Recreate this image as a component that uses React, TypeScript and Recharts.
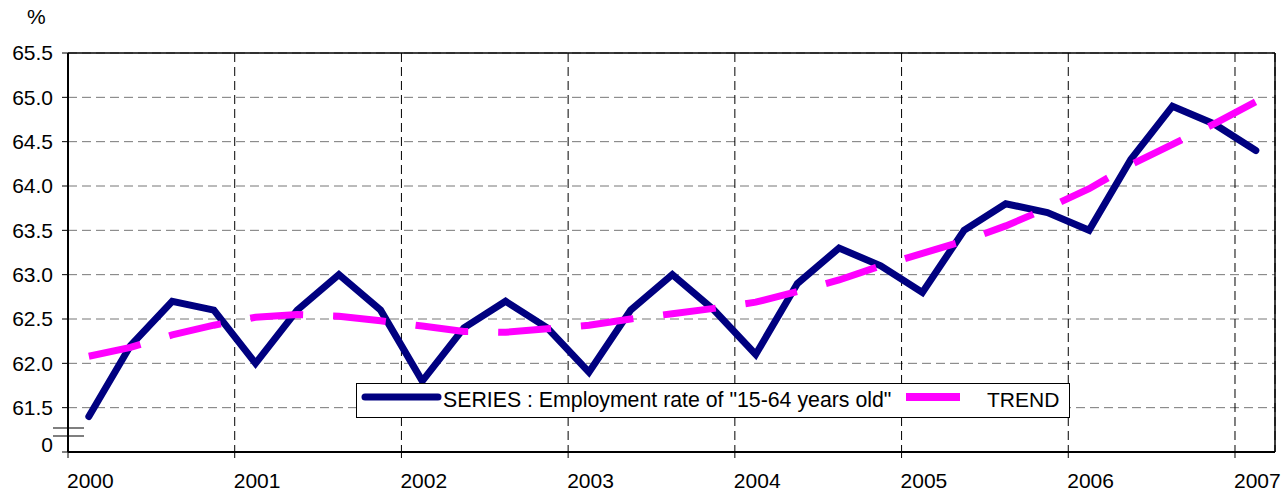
import { LineChart, Line, XAxis, YAxis, CartesianGrid, ReferenceLine } from 'recharts'

// quarterly observations, 2000Q1 .. 2007Q1
const periods = [
  '2000Q1', '2000Q2', '2000Q3', '2000Q4',
  '2001Q1', '2001Q2', '2001Q3', '2001Q4',
  '2002Q1', '2002Q2', '2002Q3', '2002Q4',
  '2003Q1', '2003Q2', '2003Q3', '2003Q4',
  '2004Q1', '2004Q2', '2004Q3', '2004Q4',
  '2005Q1', '2005Q2', '2005Q3', '2005Q4',
  '2006Q1', '2006Q2', '2006Q3', '2006Q4',
  '2007Q1',
]

const seriesValues = [
  61.4, 62.2, 62.7, 62.6,
  62.0, 62.6, 63.0, 62.6,
  61.8, 62.4, 62.7, 62.4,
  61.9, 62.6, 63.0, 62.6,
  62.1, 62.9, 63.3, 63.1,
  62.8, 63.5, 63.8, 63.7,
  63.5, 64.3, 64.9, 64.7,
  64.4,
]

const trendValues = [
  62.08, 62.18, 62.32, 62.43,
  62.52, 62.55, 62.53, 62.48,
  62.42, 62.36, 62.35, 62.39,
  62.43, 62.5, 62.56, 62.62,
  62.69, 62.81, 62.94, 63.1,
  63.24, 63.38, 63.55, 63.75,
  63.97, 64.24, 64.47, 64.7,
  64.95,
]

const yearTicks = [2000, 2001, 2002, 2003, 2004, 2005, 2006, 2007]
const yTicks = [61, 61.5, 62, 62.5, 63, 63.5, 64, 64.5, 65, 65.5]

const seriesName = 'SERIES : Employment rate of "15-64 years old"'
const trendName = 'TREND'

const FONT = '"Liberation Sans", Arial, sans-serif'
const X_MAX = 2007.24

// place each quarter in the middle of its quarter on a year axis
const data = periods.map((p, i) => ({
  t: Number(p.slice(0, 4)) + (Number(p.slice(5)) - 0.5) / 4,
  series: seriesValues[i],
  trend: trendValues[i],
}))

const YTick = ({ x, y, payload }: any) => {
  // bottom tick stands for the axis break, shown as 0
  const isBreak = payload.value === 61
  return (
    <text x={x} y={isBreak ? y - 7 : y} dy="0.355em" textAnchor="end" fontSize={21} fontFamily={FONT} fill="#000">
      {isBreak ? '0' : payload.value.toFixed(1)}
    </text>
  )
}

const XTick = ({ x, y, payload }: any) => (
  <text x={x - 1} y={y} dy="0.71em" textAnchor="start" fontSize={21} fontFamily={FONT} fill="#000">
    {payload.value}
  </text>
)

function LegendBox() {
  return (
    <svg width={714} height={35} style={{ position: 'absolute', left: 356, top: 383 }}>
      <rect x={0.5} y={0.5} width={713} height={34} fill="#fff" stroke="#000" strokeWidth={1} />
      <line x1={9} y1={14} x2={82} y2={14} stroke="#000080" strokeWidth={7} strokeLinecap="round" />
      <text x={87} y={24} fontSize={21.3} fontFamily={FONT} fill="#000">{seriesName}</text>
      <line x1={550} y1={14} x2={604} y2={14} stroke="#ff00ff" strokeWidth={8} />
      <text x={631} y={24} fontSize={21} fontFamily={FONT} fill="#000">{trendName}</text>
    </svg>
  )
}

export default function App() {
  return (
    <div style={{ position: 'absolute', left: 0, top: 0, width: 1288, height: 492, background: '#fff' }}>
      <div style={{ position: 'absolute', left: 27, top: 5, fontSize: 21, fontFamily: FONT }}>%</div>
      <LineChart width={1288} height={492} data={data} margin={{ top: 53, right: 13, left: 0, bottom: 0 }}>
        <CartesianGrid vertical={false} stroke="#777" strokeDasharray="9 5" />
        <CartesianGrid horizontal={false} stroke="#000" strokeDasharray="9 5" />
        <XAxis
          dataKey="t"
          type="number"
          domain={[2000, X_MAX]}
          ticks={yearTicks}
          tick={<XTick />}
          tickSize={6}
          tickMargin={15}
          height={40}
          axisLine={{ stroke: '#000', strokeWidth: 2 }}
          tickLine={{ stroke: '#000' }}
          allowDataOverflow
        />
        <YAxis
          type="number"
          domain={[61, 65.5]}
          ticks={yTicks}
          tick={<YTick />}
          tickSize={6}
          tickMargin={9}
          width={68}
          interval={0}
          axisLine={{ stroke: '#000', strokeWidth: 2 }}
          tickLine={{ stroke: '#000' }}
          allowDataOverflow
        />
        <ReferenceLine y={65.5} stroke="#000" strokeWidth={1.5} />
        <ReferenceLine x={X_MAX} stroke="#000" strokeWidth={1.5} />
        {/* axis break marks */}
        <ReferenceLine segment={[{ x: 1999.91, y: 61.27 }, { x: 2000.096, y: 61.27 }]} stroke="#555" strokeWidth={1.5} ifOverflow="visible" />
        <ReferenceLine segment={[{ x: 1999.91, y: 61.18 }, { x: 2000.096, y: 61.18 }]} stroke="#555" strokeWidth={1.5} ifOverflow="visible" />
        <Line
          type="linear"
          dataKey="series"
          stroke="#000080"
          strokeWidth={7}
          strokeLinecap="round"
          dot={false}
          isAnimationActive={false}
        />
        <Line
          type="linear"
          dataKey="trend"
          stroke="#ff00ff"
          strokeWidth={7}
          strokeDasharray="53 30"
          dot={false}
          isAnimationActive={false}
        />
      </LineChart>
      <LegendBox />
    </div>
  )
}
